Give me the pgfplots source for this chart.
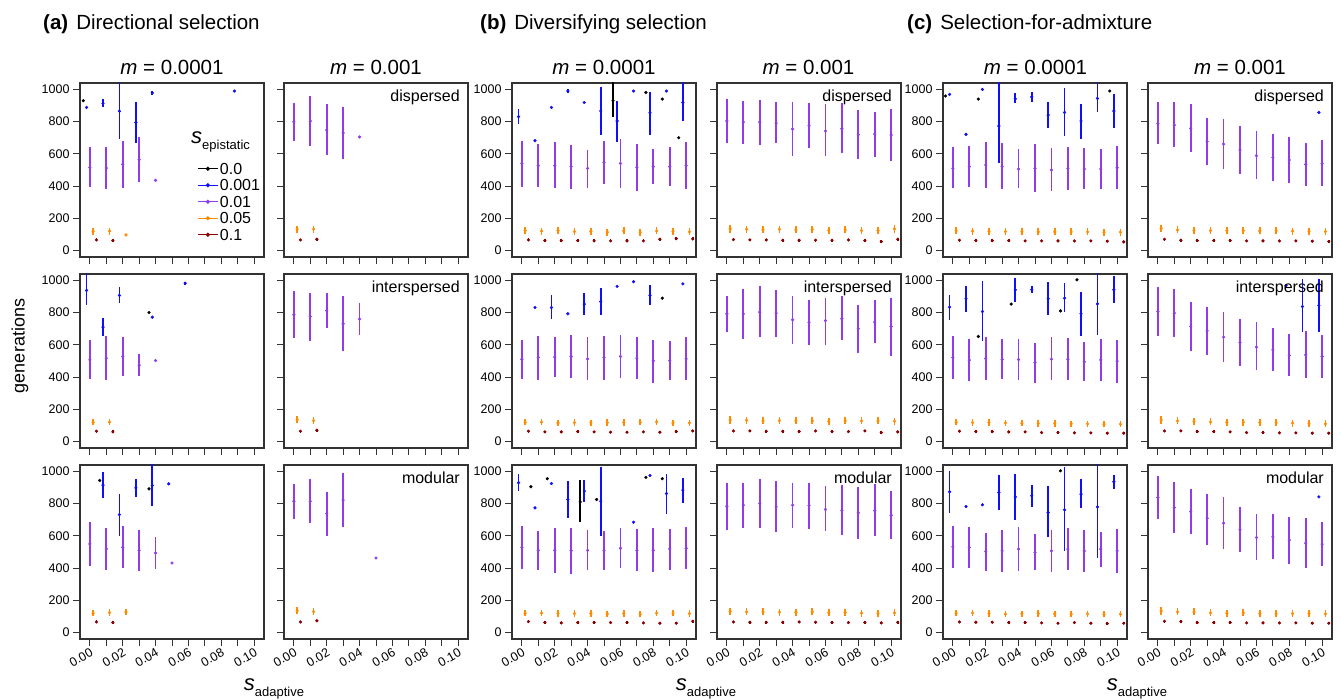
\documentclass[border=0pt]{standalone}
\usepackage{fontspec}
\setmainfont{Liberation Sans}
\usepackage{pgfplots}
\pgfplotsset{compat=1.18}
\definecolor{cblack}{RGB}{0,0,0}
\definecolor{cblue}{RGB}{15,15,250}
\definecolor{cpur}{RGB}{145,60,235}
\definecolor{corange}{RGB}{255,140,0}
\definecolor{cred}{RGB}{139,0,0}
\newcommand{\fs}[1]{\fontsize{#1}{#1}\selectfont}

\pgfplotsset{
  panel/.style={
    scale only axis, width=184pt, height=174pt, anchor=south west,
    xmin=-0.006, xmax=0.106, ymin=-40, ymax=1040,
    xtick={0,0.02,0.04,0.06,0.08,0.1},
    minor xtick={0.01,0.03,0.05,0.07,0.09},
    xticklabels={0.00,0.02,0.04,0.06,0.08,0.10},
    ytick={0,200,400,600,800,1000},
    yticklabels={0,200,400,600,800,1000},
    scaled x ticks=false, scaled y ticks=false,
    tick pos=left, tick align=outside, major tick length=7pt, minor tick length=7pt,
    tick style={black!80, line width=1pt},
    minor tick style={black!80, line width=1pt},
    axis line style={black!80, line width=1.1pt},
    tick label style={font=\fs{12.5}},
    x tick label style={rotate=30, anchor=north east, inner sep=1pt},
  },
  ser/.style={forget plot, only marks, mark=*, mark size=1.4pt, color=#1,
    mark options={draw=#1, fill=#1},
    error bars/y dir=both, error bars/y explicit, error bars/error mark=none,
    error bars/error bar style={line width=1.8pt, color=#1}},
  table/tb/.style={row sep=\\, x expr=\thisrow{x}+(#1),
    y error plus expr=\thisrow{hi}-\thisrow{y},
    y error minus expr=\thisrow{y}-\thisrow{lo}},
  table/tc/.style 2 args={row sep=\\, x expr=\thisrow{x}+(#1), y error expr=#2},
}

\begin{document}
\begin{tikzpicture}
\useasboundingbox (0,0) rectangle (1341pt,700pt);

% ---------------- (a) Directional selection ----------------
\begin{axis}[panel, at={(80pt,443pt)}, xticklabels={},
  legend cell align=left,
  legend image code/.code={\draw[mark repeat=2, mark phase=2, #1] plot coordinates {(0pt,0pt) (10pt,0pt) (20pt,0pt)};},
  legend style={at={(0.636,0.55)}, anchor=north west, draw=none, fill=none,
    inner sep=0pt, column sep=0pt, row sep=2pt, font=\fs{16},
    nodes={inner sep=1.5pt, text height=11.5pt, text depth=0pt}}]
\addplot[ser=cblack] table[tc={-0.004}{0}] {x y\\0 930\\};
\addplot[ser=cblue] table[tb=-0.002] {x y lo hi\\0 888 880 896\\0.01 913 888 938\\0.02 865 695 1100\\0.03 795 668 923\\0.04 979 967 991\\0.09 990 985 995\\};
\addplot[ser=cpur] table[tb=0] {x y lo hi\\0 515 394 643\\0.01 512 384 643\\0.02 535 390 678\\0.03 564 425 705\\0.04 436 436 436\\};
\addplot[ser=corange] table[tc={0.002}{22}] {x y\\0 120\\0.01 120\\};
\addplot[ser=corange] table[tc={0.002}{4}] {x y\\0.02 97\\};
\addplot[ser=cred] table[tc={0.004}{9}] {x y\\0 66\\0.01 62\\};
\addlegendimage{cblack, line width=1.2pt, mark=*, mark size=1.4pt}
\addlegendentry{0.0}
\addlegendimage{cblue, line width=1.2pt, mark=*, mark size=1.4pt}
\addlegendentry{0.001}
\addlegendimage{cpur, line width=1.2pt, mark=*, mark size=1.4pt}
\addlegendentry{0.01}
\addlegendimage{corange, line width=1.2pt, mark=*, mark size=1.4pt}
\addlegendentry{0.05}
\addlegendimage{cred, line width=1.2pt, mark=*, mark size=1.4pt}
\addlegendentry{0.1}
\end{axis}

\begin{axis}[panel, at={(284pt,443pt)}, xticklabels={}, yticklabels={}]
\addplot[ser=cpur] table[tb=0] {x y lo hi\\0 799 681 917\\0.01 803 647 959\\0.02 747 591 907\\0.03 730 570 892\\0.04 705 705 705\\};
\addplot[ser=corange] table[tc={0.002}{22}] {x y\\0 133\\0.01 133\\};
\addplot[ser=cred] table[tc={0.004}{8}] {x y\\0 66\\0.01 70\\};
\end{axis}

\begin{axis}[panel, at={(80pt,252pt)}, xticklabels={}]
\addplot[ser=cblack] table[tc={-0.004}{0}] {x y\\0.04 801\\};
\addplot[ser=cblue] table[tb=-0.002] {x y lo hi\\0 938 845 1100\\0.01 710 658 766\\0.02 907 859 958\\0.04 772 768 776\\0.06 983 973 993\\};
\addplot[ser=cpur] table[tb=0] {x y lo hi\\0 507 389 631\\0.01 517 381 656\\0.02 528 408 648\\0.03 474 408 542\\0.04 503 503 503\\};
\addplot[ser=corange] table[tc={0.002}{20}] {x y\\0 120\\0.01 120\\};
\addplot[ser=cred] table[tc={0.004}{9}] {x y\\0 64\\0.01 60\\};
\end{axis}

\begin{axis}[panel, at={(284pt,252pt)}, xticklabels={}, yticklabels={}]
\addplot[ser=cpur] table[tb=0] {x y lo hi\\0 787 642 936\\0.01 776 627 921\\0.02 813 704 921\\0.03 731 563 905\\0.04 760 660 859\\};
\addplot[ser=corange] table[tc={0.002}{22}] {x y\\0 135\\0.01 130\\};
\addplot[ser=cred] table[tc={0.004}{8}] {x y\\0 64\\0.01 70\\};
\end{axis}

\begin{axis}[panel, at={(80pt,61pt)}]
\addplot[ser=cblack] table[tc={-0.004}{0}] {x y\\0.01 944\\0.04 892\\};
\addplot[ser=cblue] table[tb=-0.002] {x y lo hi\\0.01 915 836 996\\0.02 732 602 863\\0.03 898 842 954\\0.04 913 784 1100\\0.05 923 918 928\\};
\addplot[ser=cpur] table[tb=0] {x y lo hi\\0 550 411 685\\0.01 519 390 650\\0.02 529 400 660\\0.03 510 384 639\\0.04 494 394 593\\0.05 432 432 432\\};
\addplot[ser=corange] table[tc={0.002}{20}] {x y\\0 120\\0.01 124\\0.02 127\\};
\addplot[ser=cred] table[tc={0.004}{9}] {x y\\0 66\\0.01 62\\};
\end{axis}

\begin{axis}[panel, at={(284pt,61pt)}, yticklabels={}]
\addplot[ser=cpur] table[tb=0] {x y lo hi\\0 815 705 925\\0.01 815 680 950\\0.02 739 602 871\\0.03 822 654 988\\0.05 463 463 463\\};
\addplot[ser=corange] table[tc={0.002}{22}] {x y\\0 135\\0.01 130\\};
\addplot[ser=cred] table[tc={0.004}{8}] {x y\\0 66\\0.01 73\\};
\end{axis}

% ---------------- (b) Diversifying selection ----------------
\begin{axis}[panel, at={(512pt,443pt)}, xticklabels={}]
\addplot[ser=cblack] table[tb=-0.0045] {x y lo hi\\0.06 930 830 1100\\0.08 981 981 981\\0.09 940 940 940\\0.1 700 700 700\\};
\addplot[ser=cblue] table[tb=-0.002] {x y lo hi\\0 831 785 876\\0.01 682 682 682\\0.02 888 888 888\\0.03 990 980 1000\\0.04 919 919 919\\0.05 866 717 1016\\0.06 804 676 930\\0.07 990 990 990\\0.08 855 717 985\\0.09 990 990 990\\0.1 919 806 1100\\};
\addplot[ser=cpur] table[tb=0] {x y lo hi\\0 541 397 680\\0.01 527 397 659\\0.02 527 386 676\\0.03 521 382 655\\0.04 510 390 624\\0.05 547 411 682\\0.06 541 390 692\\0.07 516 370 661\\0.08 521 413 628\\0.09 521 400 640\\0.1 527 382 671\\};
\addplot[ser=corange] table[tc={0.002}{22}] {x y\\0 124\\0.01 120\\0.02 124\\0.03 118\\0.04 118\\0.05 114\\0.06 122\\0.07 114\\0.08 122\\0.09 118\\0.1 116\\};
\addplot[ser=cred] table[tc={0.004}{9}] {x y\\0 66\\0.01 62\\0.02 62\\0.03 62\\0.04 60\\0.05 60\\0.06 60\\0.07 60\\0.08 70\\0.09 74\\0.1 72\\};
\end{axis}

\begin{axis}[panel, at={(717pt,443pt)}, xticklabels={}, yticklabels={}]
\addplot[ser=cpur] table[tb=0] {x y lo hi\\0 804 669 938\\0.01 797 659 930\\0.02 797 655 934\\0.03 791 665 919\\0.04 754 587 921\\0.05 775 634 913\\0.06 742 589 907\\0.07 756 603 913\\0.08 719 568 872\\0.09 723 583 862\\0.1 717 558 876\\};
\addplot[ser=corange] table[tc={0.002}{22}] {x y\\0 134\\0.01 132\\0.02 128\\0.03 132\\0.04 128\\0.05 132\\0.06 126\\0.07 128\\0.08 124\\0.09 124\\0.1 134\\};
\addplot[ser=cred] table[tc={0.004}{8}] {x y\\0 68\\0.01 66\\0.02 66\\0.03 64\\0.04 64\\0.05 64\\0.06 64\\0.07 66\\0.08 62\\0.09 56\\0.1 70\\};
\end{axis}

\begin{axis}[panel, at={(512pt,252pt)}, xticklabels={}]
\addplot[ser=cblack] table[tc={-0.0045}{0}] {x y\\0.09 890\\};
\addplot[ser=cblue] table[tb=-0.002] {x y lo hi\\0.01 832 832 832\\0.02 832 760 907\\0.03 793 793 793\\0.04 853 787 921\\0.05 869 787 952\\0.06 963 963 963\\0.07 992 992 992\\0.08 907 845 973\\0.1 979 979 979\\};
\addplot[ser=cpur] table[tb=0] {x y lo hi\\0 511 389 631\\0.01 522 383 656\\0.02 524 400 646\\0.03 528 393 662\\0.04 513 383 648\\0.05 522 383 656\\0.06 528 393 662\\0.07 518 387 648\\0.08 501 366 631\\0.09 503 379 625\\0.1 513 383 648\\};
\addplot[ser=corange] table[tc={0.002}{20}] {x y\\0 120\\0.01 120\\0.02 116\\0.03 118\\0.04 116\\0.05 118\\0.06 118\\0.07 120\\0.08 122\\0.09 116\\0.1 116\\};
\addplot[ser=cred] table[tc={0.004}{8}] {x y\\0 64\\0.01 60\\0.02 60\\0.03 62\\0.04 60\\0.05 58\\0.06 58\\0.07 60\\0.08 58\\0.09 62\\0.1 66\\};
\end{axis}

\begin{axis}[panel, at={(717pt,252pt)}, xticklabels={}, yticklabels={}]
\addplot[ser=cpur] table[tb=0] {x y lo hi\\0 793 683 905\\0.01 793 638 948\\0.02 803 646 963\\0.03 797 652 942\\0.04 756 607 905\\0.05 739 600 876\\0.06 751 600 894\\0.07 762 631 905\\0.08 700 549 849\\0.09 741 611 876\\0.1 714 534 894\\};
\addplot[ser=corange] table[tc={0.002}{22}] {x y\\0 134\\0.01 132\\0.02 128\\0.03 130\\0.04 128\\0.05 128\\0.06 126\\0.07 128\\0.08 128\\0.09 128\\0.1 126\\};
\addplot[ser=cred] table[tc={0.004}{8}] {x y\\0 66\\0.01 66\\0.02 64\\0.03 64\\0.04 62\\0.05 66\\0.06 62\\0.07 62\\0.08 66\\0.09 56\\0.1 60\\};
\end{axis}

\begin{axis}[panel, at={(512pt,61pt)}]
\addplot[ser=cblack] table[tb=-0.0045] {x y lo hi\\0.01 905 905 905\\0.02 955 955 955\\0.04 811 685 944\\0.05 826 826 826\\0.08 963 963 963\\0.09 955 955 955\\};
\addplot[ser=cblue] table[tb=-0.002] {x y lo hi\\0 930 878 981\\0.01 774 774 774\\0.02 925 925 925\\0.03 826 712 940\\0.04 878 811 944\\0.05 815 598 1029\\0.07 685 685 685\\0.08 975 975 975\\0.09 863 737 986\\0.1 884 805 961\\};
\addplot[ser=cpur] table[tb=0] {x y lo hi\\0 529 396 660\\0.01 510 390 633\\0.02 510 369 650\\0.03 508 365 650\\0.04 510 386 635\\0.05 508 386 633\\0.06 523 400 650\\0.07 510 384 643\\0.08 510 373 650\\0.09 519 390 645\\0.1 523 394 656\\};
\addplot[ser=corange] table[tc={0.002}{20}] {x y\\0 120\\0.01 120\\0.02 118\\0.03 118\\0.04 118\\0.05 116\\0.06 118\\0.07 114\\0.08 120\\0.09 120\\0.1 118\\};
\addplot[ser=cred] table[tc={0.004}{8}] {x y\\0 68\\0.01 62\\0.02 60\\0.03 62\\0.04 62\\0.05 62\\0.06 62\\0.07 60\\0.08 58\\0.09 58\\0.1 70\\};
\end{axis}

\begin{axis}[panel, at={(717pt,61pt)}, yticklabels={}]
\addplot[ser=cpur] table[tb=0] {x y lo hi\\0 784 639 930\\0.01 791 650 930\\0.02 801 650 955\\0.03 780 625 940\\0.04 791 650 930\\0.05 789 645 930\\0.06 764 629 909\\0.07 757 606 913\\0.08 743 581 903\\0.09 757 598 919\\0.1 728 583 878\\};
\addplot[ser=corange] table[tc={0.002}{22}] {x y\\0 132\\0.01 128\\0.02 128\\0.03 126\\0.04 126\\0.05 128\\0.06 124\\0.07 124\\0.08 120\\0.09 120\\0.1 122\\};
\addplot[ser=cred] table[tc={0.004}{8}] {x y\\0 66\\0.01 64\\0.02 64\\0.03 64\\0.04 66\\0.05 64\\0.06 62\\0.07 62\\0.08 62\\0.09 60\\0.1 64\\};
\end{axis}

% ---------------- (c) Selection-for-admixture ----------------
\begin{axis}[panel, at={(943pt,443pt)}, xticklabels={}]
\addplot[ser=cblack] table[tc={-0.0045}{0}] {x y\\0 959\\0.02 940\\0.1 990\\};
\addplot[ser=cblue] table[tb=-0.002] {x y lo hi\\0 969 969 969\\0.01 721 721 721\\0.02 1000 1000 1000\\0.03 773 541 1100\\0.04 942 913 975\\0.05 954 924 985\\0.06 841 762 919\\0.07 857 711 1006\\0.08 804 692 909\\0.09 944 862 1100\\0.1 866 758 971\\};
\addplot[ser=cpur] table[tb=0] {x y lo hi\\0 510 386 640\\0.01 521 397 649\\0.02 531 386 676\\0.03 521 380 665\\0.04 506 386 630\\0.05 510 366 661\\0.06 500 372 634\\0.07 510 376 645\\0.08 506 380 634\\0.09 506 380 628\\0.1 514 380 649\\};
\addplot[ser=corange] table[tc={0.002}{22}] {x y\\0 122\\0.01 120\\0.02 118\\0.03 118\\0.04 116\\0.05 116\\0.06 116\\0.07 116\\0.08 116\\0.09 114\\0.1 114\\};
\addplot[ser=cred] table[tc={0.004}{8}] {x y\\0 64\\0.01 62\\0.02 62\\0.03 62\\0.04 60\\0.05 60\\0.06 60\\0.07 60\\0.08 60\\0.09 58\\0.1 54\\};
\end{axis}

\begin{axis}[panel, at={(1148pt,443pt)}, xticklabels={}, yticklabels={}]
\addplot[ser=cblue] table[tc={-0.002}{0}] {x y\\0.1 857\\};
\addplot[ser=cpur] table[tb=0] {x y lo hi\\0 789 661 924\\0.01 779 640 919\\0.02 758 614 909\\0.03 676 531 824\\0.04 661 504 816\\0.05 624 475 773\\0.06 589 442 742\\0.07 578 434 721\\0.08 562 421 707\\0.09 535 403 669\\0.1 541 401 686\\};
\addplot[ser=corange] table[tc={0.002}{22}] {x y\\0 138\\0.01 128\\0.02 126\\0.03 124\\0.04 124\\0.05 124\\0.06 122\\0.07 122\\0.08 120\\0.09 120\\0.1 118\\};
\addplot[ser=cred] table[tc={0.004}{8}] {x y\\0 70\\0.01 64\\0.02 62\\0.03 62\\0.04 62\\0.05 60\\0.06 60\\0.07 60\\0.08 60\\0.09 58\\0.1 56\\};
\end{axis}

\begin{axis}[panel, at={(943pt,252pt)}, xticklabels={}]
\addplot[ser=cblack] table[tc={-0.0045}{0}] {x y\\0.02 652\\0.04 853\\0.07 811\\0.08 1004\\};
\addplot[ser=cblue] table[tb=-0.002] {x y lo hi\\0 834 756 911\\0.01 886 807 967\\0.02 807 625 994\\0.04 942 869 1014\\0.05 942 921 963\\0.06 886 787 989\\0.07 890 803 983\\0.08 793 656 927\\0.09 855 662 1100\\0.1 942 859 1025\\};
\addplot[ser=cpur] table[tb=0] {x y lo hi\\0 522 389 656\\0.01 505 373 638\\0.02 515 379 646\\0.03 509 387 638\\0.04 509 383 638\\0.05 491 366 611\\0.06 511 383 646\\0.07 511 383 642\\0.08 495 373 615\\0.09 507 373 638\\0.1 499 362 631\\};
\addplot[ser=corange] table[tc={0.002}{20}] {x y\\0 120\\0.01 118\\0.02 118\\0.03 116\\0.04 114\\0.05 112\\0.06 112\\0.07 110\\0.08 110\\0.09 108\\0.1 108\\};
\addplot[ser=cred] table[tc={0.004}{7}] {x y\\0 64\\0.01 62\\0.02 62\\0.03 60\\0.04 60\\0.05 56\\0.06 56\\0.07 54\\0.08 54\\0.09 52\\0.1 52\\};
\end{axis}

\begin{axis}[panel, at={(1148pt,252pt)}, xticklabels={}, yticklabels={}]
\addplot[ser=cblue] table[tb=-0.002] {x y lo hi\\0.08 968 968 968\\0.09 838 679 1010\\0.1 845 683 1008\\};
\addplot[ser=cpur] table[tb=0] {x y lo hi\\0 807 658 957\\0.01 797 648 946\\0.02 714 565 869\\0.03 687 538 834\\0.04 648 491 807\\0.05 615 470 760\\0.06 586 441 741\\0.07 569 436 704\\0.08 534 404 669\\0.09 538 393 689\\0.1 528 397 660\\};
\addplot[ser=corange] table[tc={0.002}{22}] {x y\\0 134\\0.01 128\\0.02 126\\0.03 122\\0.04 120\\0.05 120\\0.06 118\\0.07 116\\0.08 114\\0.09 110\\0.1 110\\};
\addplot[ser=cred] table[tc={0.004}{7}] {x y\\0 66\\0.01 66\\0.02 62\\0.03 62\\0.04 60\\0.05 56\\0.06 56\\0.07 54\\0.08 54\\0.09 52\\0.1 52\\};
\end{axis}

\begin{axis}[panel, at={(943pt,61pt)}]
\addplot[ser=cblack] table[tc={-0.0045}{0}] {x y\\0.07 1004\\};
\addplot[ser=cblue] table[tb=-0.002] {x y lo hi\\0 874 745 1004\\0.01 782 782 782\\0.02 793 793 793\\0.03 869 760 977\\0.04 842 698 987\\0.05 849 780 917\\0.06 745 590 907\\0.07 762 507 1025\\0.08 859 772 952\\0.09 780 460 1100\\0.1 936 890 979\\};
\addplot[ser=cpur] table[tb=0] {x y lo hi\\0 532 400 662\\0.01 528 400 656\\0.02 503 383 621\\0.03 507 373 638\\0.04 518 383 658\\0.05 497 387 611\\0.06 507 373 636\\0.07 518 387 648\\0.08 507 377 638\\0.09 518 404 627\\0.1 507 368 642\\};
\addplot[ser=corange] table[tc={0.002}{20}] {x y\\0 120\\0.01 122\\0.02 118\\0.03 114\\0.04 116\\0.05 118\\0.06 116\\0.07 114\\0.08 116\\0.09 114\\0.1 114\\};
\addplot[ser=cred] table[tc={0.004}{7}] {x y\\0 66\\0.01 64\\0.02 64\\0.03 62\\0.04 62\\0.05 60\\0.06 58\\0.07 62\\0.08 58\\0.09 56\\0.1 58\\};
\end{axis}

\begin{axis}[panel, at={(1148pt,61pt)}, yticklabels={}]
\addplot[ser=cblue] table[tc={-0.002}{0}] {x y\\0.1 842\\};
\addplot[ser=cpur] table[tb=0] {x y lo hi\\0 838 704 969\\0.01 776 621 932\\0.02 751 611 890\\0.03 710 542 863\\0.04 679 518 842\\0.05 638 497 782\\0.06 590 451 735\\0.07 594 455 735\\0.08 573 424 718\\0.09 555 400 708\\0.1 549 414 689\\};
\addplot[ser=corange] table[tc={0.002}{22}] {x y\\0 134\\0.01 128\\0.02 128\\0.03 122\\0.04 120\\0.05 122\\0.06 118\\0.07 116\\0.08 118\\0.09 118\\0.1 116\\};
\addplot[ser=cred] table[tc={0.004}{8}] {x y\\0 70\\0.01 68\\0.02 62\\0.03 62\\0.04 62\\0.05 60\\0.06 60\\0.07 60\\0.08 60\\0.09 58\\0.1 58\\};
\end{axis}

% ---------------- titles and labels ----------------
\node[anchor=base west, font=\fs{20.5}, inner sep=0pt] at (43pt,670.5pt) {\textbf{(a)}\hspace{8pt}Directional selection};
\node[anchor=base west, font=\fs{20.5}, inner sep=0pt] at (480pt,670.5pt) {\textbf{(b)}\hspace{8pt}Diversifying selection};
\node[anchor=base west, font=\fs{20.5}, inner sep=0pt] at (907pt,670.5pt) {\textbf{(c)}\hspace{8pt}Selection-for-admixture};

\foreach \cx in {172,604,1035.5} {
  \node[anchor=base, font=\fs{20.5}, inner sep=0pt] at (\cx pt,625pt) {\textit{m} = 0.0001};
}
\foreach \cx in {376,808.5,1240} {
  \node[anchor=base, font=\fs{20.5}, inner sep=0pt] at (\cx pt,625pt) {\textit{m} = 0.001};
}
\foreach \rx in {460,892,1324} {
  \node[anchor=base east, font=\fs{16}, inner sep=0pt] at (\rx pt,598.3pt) {dispersed};
  \node[anchor=base east, font=\fs{16}, inner sep=0pt] at (\rx pt,407.3pt) {interspersed};
  \node[anchor=base east, font=\fs{16}, inner sep=0pt] at (\rx pt,216.3pt) {modular};
}
\foreach \cx in {274,706,1137} {
  \node[anchor=base, inner sep=0pt] at (\cx pt,9pt) {{\fs{22}\textit{s}}\raisebox{-5.5pt}{\fs{13}adaptive}};
}
\node[anchor=base west, inner sep=0pt] at (191pt,556pt) {{\fs{22}\textit{s}}\raisebox{-5.5pt}{\fs{13}epistatic}};
\node[rotate=90, font=\fs{18}, inner sep=0pt] at (20pt,354pt) {generations};
\end{tikzpicture}
\end{document}
